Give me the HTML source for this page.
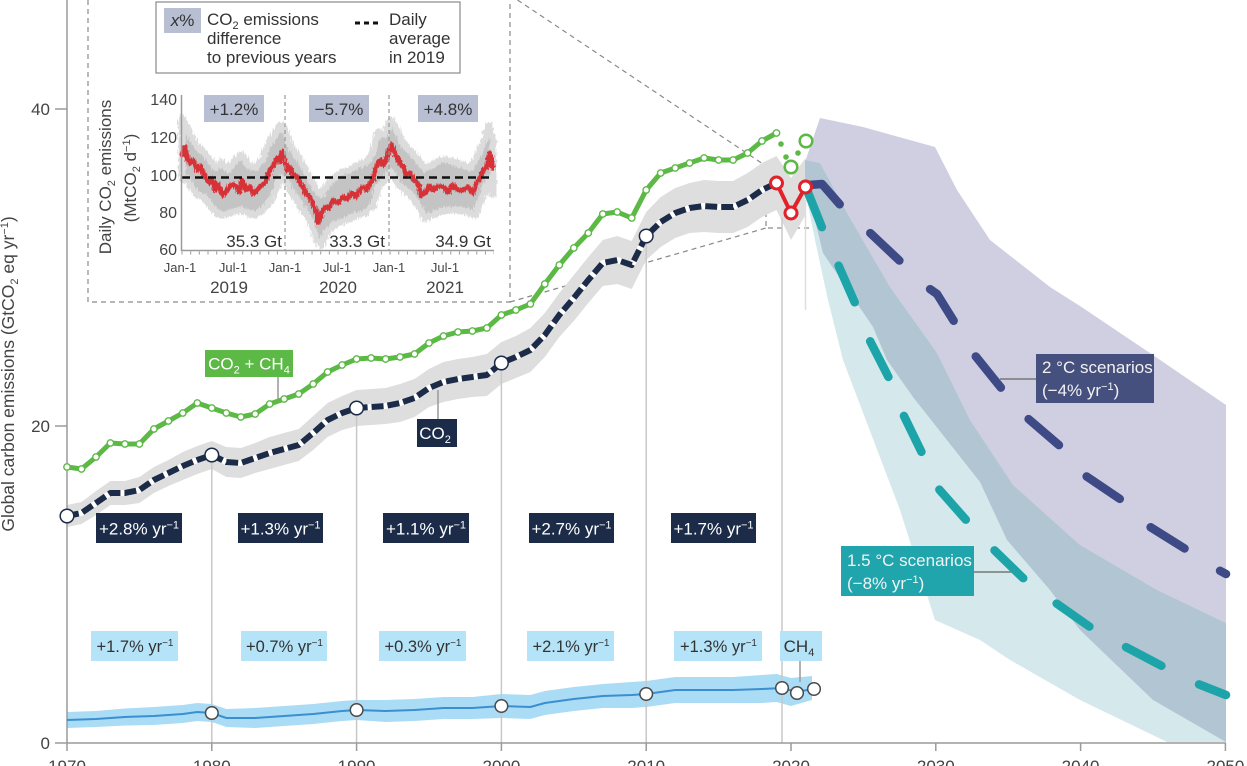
<!DOCTYPE html>
<html><head><meta charset="utf-8"><style>
html,body{margin:0;padding:0;background:#fff;}
svg{display:block;}
text{font-family:"Liberation Sans",sans-serif;}
</style></head><body>
<svg width="1247" height="766" viewBox="0 0 1247 766" xmlns="http://www.w3.org/2000/svg">
<defs>
<filter id="jr" x="-3%" y="-40%" width="106%" height="180%">
<feTurbulence type="fractalNoise" baseFrequency="0.9 0.25" numOctaves="2" seed="5"/>
<feDisplacementMap in="SourceGraphic" scale="5" xChannelSelector="R" yChannelSelector="G"/>
</filter>
<filter id="jg" x="-3%" y="-40%" width="106%" height="180%">
<feTurbulence type="fractalNoise" baseFrequency="0.7 0.2" numOctaves="2" seed="9"/>
<feDisplacementMap in="SourceGraphic" scale="7" xChannelSelector="R" yChannelSelector="G"/>
</filter>
</defs>

<!-- inset dashed frame and connectors -->
<g fill="none" stroke="#8a8a8a" stroke-width="1.2" stroke-dasharray="5 4">
<polyline points="88,0 88,302 510,302 510,0"/>
<line x1="510" y1="-5" x2="766" y2="166"/>
<line x1="510" y1="302" x2="766" y2="228"/>
<rect x="766" y="166" width="49" height="62"/>
</g>

<!-- CO2 uncertainty band -->
<polygon fill="#dedede" points="67,505 81.5,502 96,491 110.4,481 124.9,481 139.4,477 153.9,467 168.4,460 182.8,452 197.3,446 211.8,441 226.3,447 240.8,448 255.2,443 269.7,437 284.2,433 298.7,429 313.2,416 327.6,403 342.1,396 356.6,390 371.1,389 385.6,388 400,384 414.5,379 429,369 443.5,362 458,359 472.4,357 486.9,354 501.4,342 515.9,336 530.4,328 544.8,313 559.3,293 573.8,275 588.3,257 602.8,240 617.2,236 631.7,241 646.2,212 660.7,197 675.2,188 689.6,183 704.1,180 718.6,181 733.1,181 747.6,173 762,163 776.5,156 791,178 805.5,158 805.5,215 791,240 776.5,210 762,217 747.6,227 733.1,233 718.6,233 704.1,232 689.6,233 675.2,238 660.7,247 646.2,260 631.7,289 617.2,284 602.8,286 588.3,303 573.8,321 559.3,337 544.8,357 530.4,372 515.9,378 501.4,384 486.9,396 472.4,397 458,399 443.5,402 429,407 414.5,417 400,422 385.6,424 371.1,425 356.6,426 342.1,430 327.6,437 313.2,450 298.7,461 284.2,465 269.7,469 255.2,473 240.8,478 226.3,477 211.8,469 197.3,474 182.8,480 168.4,486 153.9,493 139.4,503 124.9,505 110.4,505 96,515 81.5,524 67,527"/>

<!-- CH4 band -->
<polygon fill="#aadcf5" points="67,712 96,711 124.9,708.5 153.9,707 182.8,705 197.3,703 211.8,704 226.3,709 255.2,708 284.2,706 313.2,704 342.1,701 356.6,700 385.6,700 414.5,699 443.5,697 472.4,697 501.4,694 530.4,695 544.8,691 573.8,687 602.8,684 631.7,682 646.2,681 675.2,677 704.1,677 733.1,677 762,675 776.5,674 791,678 812,676 812,700 791,706 776.5,702 762,703 733.1,703 704.1,703 675.2,703 646.2,707 631.7,708 602.8,708 573.8,711 544.8,715 530.4,719 501.4,718 472.4,719 443.5,719 414.5,721 385.6,722 356.6,720 342.1,721 313.2,724 284.2,726 255.2,728 226.3,727 211.8,722 197.3,721 182.8,723 153.9,725 124.9,725.5 96,727 67,728"/>

<!-- scenario bands -->
<polygon fill="#d0cfe1" points="805,162 820,118 863,127 935,147 957,190 990,240 1050,287 1080,306 1147,351 1226,405 1226,742 1153,700 1080,630 1050,590 1007,540 980,482 913,397 887,360 873,327 823,253 810,200 805,185"/>
<polygon fill="#d5e8ec" points="805,160 820,163 847,213 890,287 937,353 970,420 1013,485 1080,545 1157,590 1226,623 1226,742 1167,742 1080,700 1010,660 980,640 935,620 900,510 862,410 843,360 828,300 815,240 805,190"/>
<polygon fill="#b2c5d3" points="805,160 820,163 847,213 890,287 937,353 970,420 1013,485 1080,545 1157,590 1226,623 1226,742 1153,700 1080,630 1050,590 1007,540 980,482 913,397 887,360 873,327 823,253 810,200 805,185"/>

<!-- vertical guide lines -->
<g stroke="#c8c8c8" stroke-width="1.5">
<line x1="211.8" y1="455" x2="211.8" y2="743"/>
<line x1="356.6" y1="408" x2="356.6" y2="743"/>
<line x1="501.4" y1="363" x2="501.4" y2="743"/>
<line x1="646.2" y1="236" x2="646.2" y2="743"/>
<line x1="782" y1="218" x2="782" y2="743"/>
<line x1="805.5" y1="200" x2="805.5" y2="310" stroke="#dedede"/>
<line x1="278" y1="377" x2="278" y2="400" stroke="#999"/>
<line x1="438" y1="390" x2="438" y2="419" stroke="#999"/>
<line x1="800" y1="661" x2="800" y2="682" stroke="#999"/>
<line x1="1000" y1="379" x2="1036" y2="379" stroke="#777"/>
<line x1="974" y1="572" x2="1013" y2="572" stroke="#777"/>
</g>

<!-- axes -->
<g stroke="#9a9a9a" stroke-width="1.5" fill="none">
<line x1="67" y1="0" x2="67" y2="743"/>
<line x1="67" y1="743" x2="1226" y2="743"/>
<line x1="55" y1="109" x2="67" y2="109"/>
<line x1="55" y1="426" x2="67" y2="426"/>
<line x1="55" y1="743" x2="67" y2="743"/>
<path d="M67 743v8M211.8 743v8M356.6 743v8M501.4 743v8M646.2 743v8M791 743v8M935.8 743v8M1080.6 743v8M1225.4 743v8"/>
</g>
<g font-size="17" fill="#444" text-anchor="end">
<text x="50" y="115">40</text>
<text x="50" y="432">20</text>
<text x="50" y="749">0</text>
</g>
<g font-size="17" fill="#444" text-anchor="middle">
<text x="67" y="772">1970</text>
<text x="211.8" y="772">1980</text>
<text x="356.6" y="772">1990</text>
<text x="501.4" y="772">2000</text>
<text x="646.2" y="772">2010</text>
<text x="791" y="772">2020</text>
<text x="935.8" y="772">2030</text>
<text x="1080.6" y="772">2040</text>
<text x="1225.4" y="772">2050</text>
</g>
<text transform="translate(14,374) rotate(-90)" text-anchor="middle" font-size="17.5" fill="#444">Global carbon emissions (GtCO<tspan dy="4" font-size="11">2</tspan><tspan dy="-4"> eq yr</tspan><tspan dy="-6" font-size="11">−1</tspan><tspan dy="6">)</tspan></text>

<!-- CH4 line -->
<polyline fill="none" stroke="#3a8fd0" stroke-width="2" points="67,720 96,719 124.9,717 153.9,716 182.8,714 197.3,712 211.8,713 226.3,718 255.2,718 284.2,716 313.2,714 342.1,711 356.6,710 385.6,711 414.5,710 443.5,708 472.4,708 501.4,706 530.4,707 544.8,703 573.8,699 602.8,696 631.7,695 646.2,694 675.2,690 704.1,690 733.1,690 762,689 782,688 797,692 812,689"/>
<g fill="#fff" stroke="#4a4a4a" stroke-width="1.5">
<circle cx="211.8" cy="713" r="6.3"/><circle cx="356.6" cy="710" r="6.3"/><circle cx="501.4" cy="706" r="6.3"/><circle cx="646.2" cy="694" r="6.3"/><circle cx="782" cy="688" r="6.3"/><circle cx="797" cy="693" r="6.3"/><circle cx="814" cy="689" r="6.3"/>
</g>

<!-- CO2 line -->
<polyline fill="none" stroke="#fff" stroke-width="6" stroke-linejoin="round" points="67,516 81.5,513 96,503 110.4,493 124.9,493 139.4,490 153.9,480 168.4,473 182.8,466 197.3,460 211.8,455 226.3,462 240.8,463 255.2,458 269.7,453 284.2,449 298.7,445 313.2,433 327.6,420 342.1,413 356.6,408 371.1,407 385.6,406 400,403 414.5,398 429,388 443.5,382 458,379 472.4,377 486.9,375 501.4,363 515.9,357 530.4,350 544.8,335 559.3,315 573.8,298 588.3,280 602.8,263 617.2,260 631.7,265 646.2,236 660.7,222 675.2,213 689.6,208 704.1,206 718.6,207 733.1,207 747.6,200 762,190 776.5,183"/>
<polyline fill="none" stroke="#1c2b48" stroke-width="6" stroke-dasharray="12 4" stroke-linejoin="round" points="67,516 81.5,513 96,503 110.4,493 124.9,493 139.4,490 153.9,480 168.4,473 182.8,466 197.3,460 211.8,455 226.3,462 240.8,463 255.2,458 269.7,453 284.2,449 298.7,445 313.2,433 327.6,420 342.1,413 356.6,408 371.1,407 385.6,406 400,403 414.5,398 429,388 443.5,382 458,379 472.4,377 486.9,375 501.4,363 515.9,357 530.4,350 544.8,335 559.3,315 573.8,298 588.3,280 602.8,263 617.2,260 631.7,265 646.2,236 660.7,222 675.2,213 689.6,208 704.1,206 718.6,207 733.1,207 747.6,200 762,190 776.5,183"/>
<g fill="#fff" stroke="#1c2b48" stroke-width="1.5">
<circle cx="67" cy="516" r="6.8"/><circle cx="211.8" cy="455" r="6.8"/><circle cx="356.6" cy="408" r="6.8"/><circle cx="501.4" cy="363" r="6.8"/><circle cx="646.2" cy="236" r="6.8"/>
</g>

<!-- green CO2+CH4 line -->
<polyline fill="none" stroke="#5cb946" stroke-width="5" stroke-linejoin="round" points="67,467 81.5,469 96,457 110.4,443 124.9,444 139.4,444 153.9,429 168.4,421 182.8,413 197.3,403 211.8,408 226.3,413 240.8,417 255.2,414 269.7,404 284.2,399 298.7,394 313.2,384 327.6,372 342.1,365 356.6,359 371.1,358 385.6,359 400,357 414.5,354 429,343 443.5,336 458,332 472.4,331 486.9,328 501.4,315 515.9,310 530.4,304 544.8,284 559.3,265 573.8,248 588.3,233 602.8,214 617.2,212 631.7,218 646.2,190 660.7,173 675.2,168 689.6,163 704.1,158 718.6,160 733.1,160 747.6,153 762,141 776.5,133"/>
<g fill="#fff" stroke="#5cb946" stroke-width="1.4">
<circle cx="67" cy="467" r="3.2"/><circle cx="81.5" cy="469" r="3.2"/><circle cx="96" cy="457" r="3.2"/><circle cx="110.4" cy="443" r="3.2"/><circle cx="124.9" cy="444" r="3.2"/><circle cx="139.4" cy="444" r="3.2"/><circle cx="153.9" cy="429" r="3.2"/><circle cx="168.4" cy="421" r="3.2"/><circle cx="182.8" cy="413" r="3.2"/><circle cx="197.3" cy="403" r="3.2"/><circle cx="211.8" cy="408" r="3.2"/><circle cx="226.3" cy="413" r="3.2"/><circle cx="240.8" cy="417" r="3.2"/><circle cx="255.2" cy="414" r="3.2"/><circle cx="269.7" cy="404" r="3.2"/><circle cx="284.2" cy="399" r="3.2"/><circle cx="298.7" cy="394" r="3.2"/><circle cx="313.2" cy="384" r="3.2"/><circle cx="327.6" cy="372" r="3.2"/><circle cx="342.1" cy="365" r="3.2"/><circle cx="356.6" cy="359" r="3.2"/><circle cx="371.1" cy="358" r="3.2"/><circle cx="385.6" cy="359" r="3.2"/><circle cx="400" cy="357" r="3.2"/><circle cx="414.5" cy="354" r="3.2"/><circle cx="429" cy="343" r="3.2"/><circle cx="443.5" cy="336" r="3.2"/><circle cx="458" cy="332" r="3.2"/><circle cx="472.4" cy="331" r="3.2"/><circle cx="486.9" cy="328" r="3.2"/><circle cx="501.4" cy="315" r="3.2"/><circle cx="515.9" cy="310" r="3.2"/><circle cx="530.4" cy="304" r="3.2"/><circle cx="544.8" cy="284" r="3.2"/><circle cx="559.3" cy="265" r="3.2"/><circle cx="573.8" cy="248" r="3.2"/><circle cx="588.3" cy="233" r="3.2"/><circle cx="602.8" cy="214" r="3.2"/><circle cx="617.2" cy="212" r="3.2"/><circle cx="631.7" cy="218" r="3.2"/><circle cx="646.2" cy="190" r="3.2"/><circle cx="660.7" cy="173" r="3.2"/><circle cx="675.2" cy="168" r="3.2"/><circle cx="689.6" cy="163" r="3.2"/><circle cx="704.1" cy="158" r="3.2"/><circle cx="718.6" cy="160" r="3.2"/><circle cx="733.1" cy="160" r="3.2"/><circle cx="747.6" cy="153" r="3.2"/><circle cx="762" cy="141" r="3.2"/><circle cx="776.5" cy="133" r="3.2"/>
</g>
<g fill="#5cb946"><circle cx="781" cy="144" r="2.8"/><circle cx="786" cy="157" r="2.8"/><circle cx="798" cy="153" r="2.8"/></g>
<g fill="#fff" stroke="#5cb946" stroke-width="2.5"><circle cx="791" cy="167" r="6.3"/><circle cx="806" cy="141" r="6.3"/></g>

<!-- scenario dashed lines -->
<polyline fill="none" stroke="#3e4a86" stroke-width="8.5" stroke-linecap="round" stroke-linejoin="round" stroke-dasharray="40 42" points="809,185 822,184 842,207 867,230 902,263 927,287 937,294 955,323 973,353 1002,389 1025,416 1060,446 1083,474 1120,499 1147,525 1187,550 1213,567 1226,574"/>
<polyline fill="none" stroke="#1ca4a9" stroke-width="8.5" stroke-linecap="round" stroke-linejoin="round" stroke-dasharray="40 42" points="807,190 823,230 837,262 855,303 868,337 890,380 903,414 922,453 937,487 967,521 990,546 1023,578 1053,601 1090,627 1120,644 1160,665 1193,682 1226,695"/>

<!-- red 2019-2021 -->
<polyline fill="none" stroke="#e0222b" stroke-width="4" stroke-linejoin="round" points="776.5,183 791,213 805.5,187"/>
<g fill="#fff" stroke="#e0222b" stroke-width="3"><circle cx="776.5" cy="183" r="6"/><circle cx="791" cy="213" r="6"/><circle cx="805.5" cy="187" r="6"/></g>

<!-- dark labels -->
<g fill="#1c2b48">
<rect x="96" y="513" width="86" height="30"/><rect x="238" y="513" width="85" height="30"/><rect x="383" y="513" width="86" height="30"/><rect x="529" y="513" width="85" height="30"/><rect x="671" y="513" width="85" height="30"/>
<rect x="417" y="419" width="40" height="28"/>
</g>
<g fill="#fff" font-size="17" text-anchor="middle">
<text x="139" y="534.5">+2.8% yr<tspan dy="-6" font-size="11">−1</tspan></text>
<text x="280.5" y="534.5">+1.3% yr<tspan dy="-6" font-size="11">−1</tspan></text>
<text x="426" y="534.5">+1.1% yr<tspan dy="-6" font-size="11">−1</tspan></text>
<text x="571.5" y="534.5">+2.7% yr<tspan dy="-6" font-size="11">−1</tspan></text>
<text x="713.5" y="534.5">+1.7% yr<tspan dy="-6" font-size="11">−1</tspan></text>
<text x="435" y="439">CO<tspan dy="4" font-size="11">2</tspan></text>
</g>
<!-- light blue labels -->
<g fill="#b5e3f7">
<rect x="91" y="631" width="87" height="30"/><rect x="241" y="631" width="86" height="30"/><rect x="379" y="631" width="87" height="30"/><rect x="527" y="631" width="87" height="30"/><rect x="674" y="631" width="88" height="30"/><rect x="780" y="631" width="42" height="30"/>
</g>
<g fill="#333" font-size="16.5" text-anchor="middle">
<text x="135" y="652">+1.7% yr<tspan dy="-6" font-size="10">−1</tspan></text>
<text x="284.5" y="652">+0.7% yr<tspan dy="-6" font-size="10">−1</tspan></text>
<text x="423" y="652">+0.3% yr<tspan dy="-6" font-size="10">−1</tspan></text>
<text x="571" y="652">+2.1% yr<tspan dy="-6" font-size="10">−1</tspan></text>
<text x="718.5" y="652">+1.3% yr<tspan dy="-6" font-size="10">−1</tspan></text>
<text x="799" y="652" font-size="17">CH<tspan dy="4" font-size="11">4</tspan></text>
</g>
<!-- green label -->
<rect x="205" y="350" width="88" height="27" fill="#5cb946"/>
<text x="249" y="369.5" fill="#fff" font-size="17" text-anchor="middle">CO<tspan dy="4" font-size="11">2</tspan><tspan dy="-4"> + CH</tspan><tspan dy="4" font-size="11">4</tspan></text>
<!-- scenario labels -->
<rect x="1036" y="354" width="118" height="49" fill="#46507f"/>
<text x="1042" y="373" fill="#f2f2f2" font-size="17">2 °C scenarios</text>
<text x="1042" y="396" fill="#f2f2f2" font-size="17">(−4% yr<tspan dy="-6" font-size="11">−1</tspan><tspan dy="6">)</tspan></text>
<rect x="841" y="546" width="133" height="50" fill="#20a5ad"/>
<text x="847" y="566" fill="#f2f2f2" font-size="17">1.5 °C scenarios</text>
<text x="847" y="589" fill="#f2f2f2" font-size="17">(−8% yr<tspan dy="-6" font-size="11">−1</tspan><tspan dy="6">)</tspan></text>

<!-- ===== INSET ===== -->
<rect x="156" y="2" width="304" height="71" fill="#fff" stroke="#8a8a8a" stroke-width="1.2"/>
<rect x="164" y="8" width="37" height="25" fill="#b8bfd2"/>
<text x="182.5" y="26" font-size="17" fill="#333" text-anchor="middle"><tspan font-style="italic">x</tspan>%</text>
<g font-size="17" fill="#333">
<text x="207" y="25">CO<tspan dy="4" font-size="11">2</tspan><tspan dy="-4"> emissions</tspan></text>
<text x="207" y="44">difference</text>
<text x="207" y="63">to previous years</text>
<text x="389" y="25">Daily</text>
<text x="389" y="44">average</text>
<text x="389" y="63">in 2019</text>
</g>
<line x1="355" y1="23" x2="381" y2="23" stroke="#111" stroke-width="3" stroke-dasharray="5 4"/>

<!-- inset gray band -->
<g filter="url(#jg)">
<polygon fill="#c4c4c4" stroke="#dcdcdc" stroke-width="7" stroke-linejoin="round" points="182,118 186,125 190,135 196,145 203,152 210,160 216,168 222,162 228,170 235,160 242,155 248,165 255,168 262,160 268,145 274,135 280,125 285,130 290,145 297,155 303,165 310,178 316,190 321,195 327,185 334,178 342,172 350,170 358,165 366,162 372,155 378,132 385,135 391,120 397,130 404,145 410,150 418,160 425,168 432,165 440,160 448,160 455,162 463,165 471,168 478,155 484,140 489,125 493,140 493,195 488,180 482,198 475,215 467,212 458,210 448,210 440,212 432,215 425,218 418,205 411,195 404,190 397,182 391,172 385,180 379,185 373,205 366,213 358,215 350,218 342,222 334,225 327,232 321,245 316,238 310,220 303,210 297,200 290,190 285,180 280,178 274,195 267,205 260,212 253,215 246,212 240,210 232,212 225,215 219,214 212,208 205,198 198,195 192,188 186,178 182,180"/>
</g>
<g filter="url(#jr)">
<polyline fill="none" stroke="#d63038" stroke-width="5" stroke-linejoin="round" points="182,157 183.5,150 185,147 187,158 190,163 193,160 197,170 200,166 203,173 206,178 210,183 212,179 215,190 217,184 220,188 223,195 227,190 232,184 237,187 239,192 242,180 246,190 250,187 253,194 257,190 261,186 265,183 267,178 270,170 273,166 277,158 280,162 282,152 284,157 285,160 287,170 290,167 293,175 297,177 300,183 303,187 306,194 310,197 313,205 317,213 318,223 320,218 322,212 325,207 329,208 333,200 338,203 343,197 347,199 352,193 356,197 360,190 363,187 367,190 370,183 373,180 376,167 380,160 383,165 387,158 389,149 392,145 394,152 397,157 400,163 403,167 406,175 410,173 414,180 418,183 421,195 425,193 429,186 433,190 438,186 443,187 448,192 453,185 458,190 463,190 468,187 473,193 476,184 480,178 483,170 487,167 488,160 490,153 492,162 493,170"/>
</g>
<line x1="182" y1="177.5" x2="494" y2="177.5" stroke="#111" stroke-width="2.5" stroke-dasharray="8 5"/>
<!-- inset axes -->
<g stroke="#9a9a9a" fill="none">
<line x1="181.5" y1="95" x2="181.5" y2="251" stroke-width="1.5"/>
<line x1="181" y1="250.5" x2="494" y2="250.5" stroke-width="1.5"/>
<line x1="181.5" y1="253" x2="494" y2="253" stroke-width="3" stroke-dasharray="1 7.67"/>
<line x1="285" y1="95" x2="285" y2="250" stroke-width="1.2" stroke-dasharray="4 3"/>
<line x1="389" y1="95" x2="389" y2="250" stroke-width="1.2" stroke-dasharray="4 3"/>
</g>
<g fill="#b8bfd2">
<rect x="204" y="95" width="60" height="27"/><rect x="309" y="95" width="60" height="27"/><rect x="418" y="95" width="60" height="27"/>
</g>
<g font-size="17" fill="#333" text-anchor="middle">
<text x="234" y="115">+1.2%</text><text x="339" y="115">−5.7%</text><text x="448" y="115">+4.8%</text>
</g>
<g font-size="17" fill="#333" text-anchor="end">
<text x="282" y="247">35.3 Gt</text><text x="385" y="247">33.3 Gt</text><text x="491" y="247">34.9 Gt</text>
</g>
<g font-size="16" fill="#444" text-anchor="end">
<text x="177" y="105">140</text><text x="177" y="143">120</text><text x="177" y="181">100</text><text x="177" y="218">80</text><text x="177" y="255">60</text>
</g>
<g font-size="13" fill="#444" text-anchor="middle">
<text x="180" y="272">Jan-1</text><text x="233" y="272">Jul-1</text><text x="285" y="272">Jan-1</text><text x="337" y="272">Jul-1</text><text x="389" y="272">Jan-1</text><text x="445" y="272">Jul-1</text>
</g>
<g font-size="17" fill="#444" text-anchor="middle">
<text x="229" y="293">2019</text><text x="338" y="293">2020</text><text x="445" y="293">2021</text>
</g>
<text transform="translate(111,177) rotate(-90)" text-anchor="middle" font-size="17" fill="#444">Daily CO<tspan dy="4" font-size="11">2</tspan><tspan dy="-4"> emissions</tspan></text>
<text transform="translate(136,178) rotate(-90)" text-anchor="middle" font-size="17" fill="#444">(MtCO<tspan dy="4" font-size="11">2</tspan><tspan dy="-4"> d</tspan><tspan dy="-6" font-size="11">−1</tspan><tspan dy="6">)</tspan></text>
</svg>
</body></html>
